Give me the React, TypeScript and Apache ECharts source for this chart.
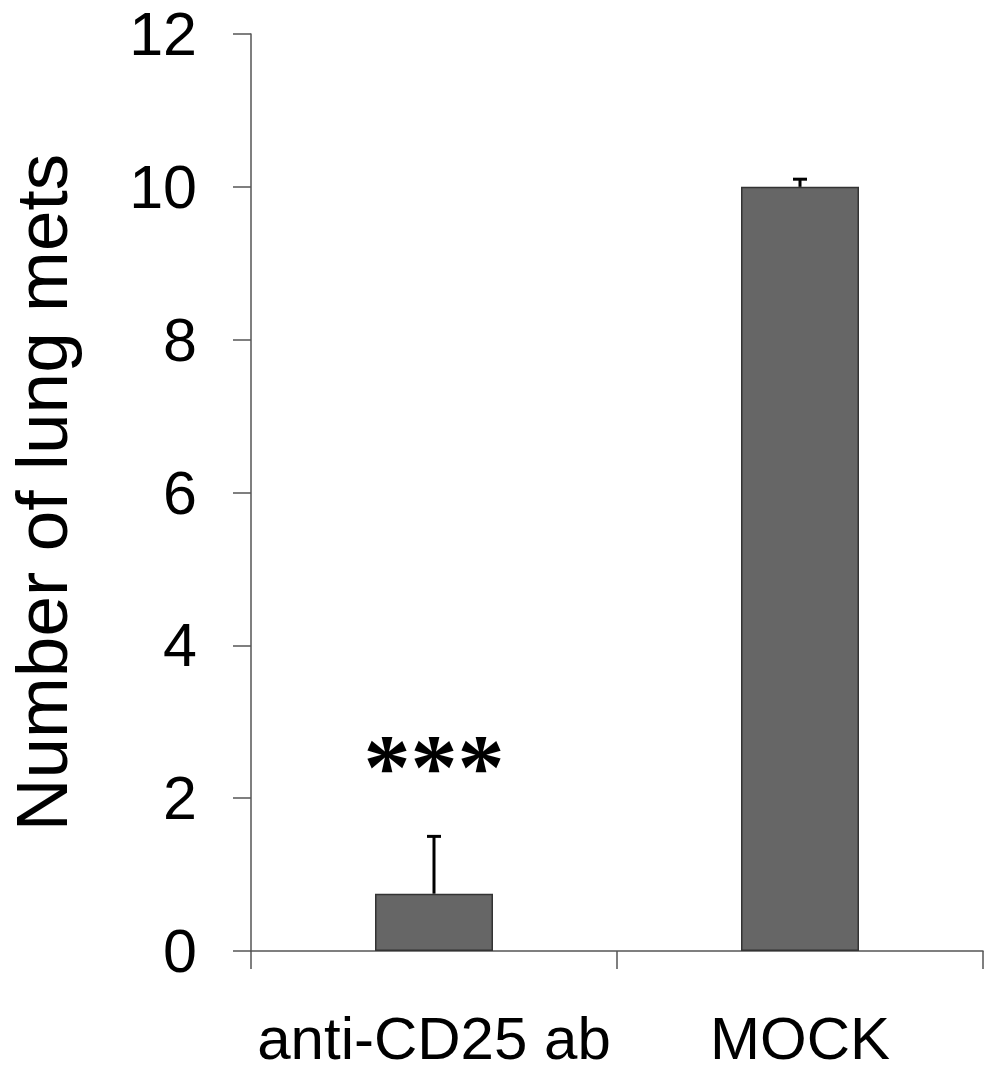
import React, { useEffect, useRef } from "react";
import * as echarts from "echarts";

const categories = ["anti-CD25 ab", "MOCK"];
const means = [0.75, 10];
const upperErrors = [1.5, 10.1];
const significance = ["***", ""];
const yMin = 0;
const yMax = 12;
const yInterval = 2;
const yTitle = "Number of lung mets";

const FONT = "'Liberation Sans', Arial, sans-serif";

export default function App() {
  const ref = useRef<HTMLDivElement>(null);
  useEffect(() => {
    document.body.style.margin = "0";
    const chart = echarts.init(ref.current!, null, { renderer: "svg" });
    const errData = categories.map((_, i) => [i, means[i], upperErrors[i]]);
    chart.setOption({
      animation: false,
      backgroundColor: "#ffffff",
      grid: { left: 251, right: 1, top: 34, bottom: 120, containLabel: false, outerBoundsMode: "none" },
      xAxis: {
        type: "category",
        data: categories,
        axisLine: { lineStyle: { color: "#555555", width: 1.5 } },
        axisTick: { show: true, length: 18, alignWithLabel: false, lineStyle: { color: "#555555", width: 1.5 } },
        axisLabel: { color: "#000000", fontSize: 60, lineHeight: 56, fontFamily: FONT, margin: 59, interval: 0, hideOverlap: false },
      },
      yAxis: {
        type: "value",
        min: yMin,
        max: yMax,
        interval: yInterval,
        name: yTitle,
        nameLocation: "middle",
        nameRotate: 90,
        nameGap: 173,
        nameTextStyle: { color: "#000000", fontSize: 73, fontFamily: FONT },
        splitLine: { show: false },
        axisLine: { show: true, lineStyle: { color: "#555555", width: 1.5 } },
        axisTick: { show: true, length: 18, lineStyle: { color: "#555555", width: 1.5 } },
        axisLabel: { color: "#000000", fontSize: 61, fontFamily: FONT, margin: 54 },
      },
      series: [
        {
          type: "bar",
          data: means,
          barWidth: 118,
          itemStyle: { color: "#666666", borderColor: "#333333", borderWidth: 1.5 },
        },
        {
          type: "custom",
          data: errData,
          z: 5,
          renderItem: (params: any, api: any) => {
            const x = api.value(0);
            const base = api.coord([x, api.value(1)]);
            const top = api.coord([x, api.value(2)]);
            const sig = significance[params.dataIndex];
            const children: any[] = [
              { type: "line", shape: { x1: base[0], y1: base[1], x2: top[0], y2: top[1] }, style: { stroke: "#000", lineWidth: 3 } },
              { type: "line", shape: { x1: top[0] - 7, y1: top[1], x2: top[0] + 7, y2: top[1] }, style: { stroke: "#000", lineWidth: 3 } },
            ];
            if (sig) {
              children.push({
                type: "text",
                style: {
                  text: sig,
                  x: top[0],
                  y: top[1] - 70,
                  align: "center",
                  verticalAlign: "middle",
                  fontSize: 94,
                  fontWeight: "bold",
                  fontFamily: "'Liberation Serif', 'Times New Roman', serif",
                  fill: "#000",
                },
              });
            }
            return { type: "group", children };
          },
        },
      ],
    });
    return () => chart.dispose();
  }, []);
  return <div ref={ref} style={{ width: 984, height: 1071 }} />;
}
